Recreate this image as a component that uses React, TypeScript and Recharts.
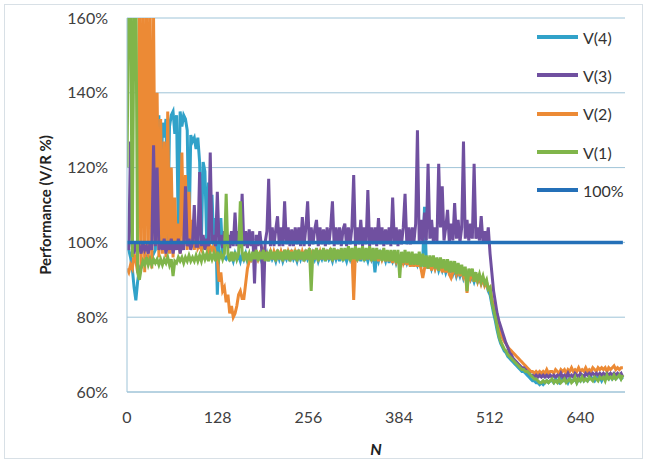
import React from 'react';
import { LineChart, Line, XAxis, YAxis, CartesianGrid, Legend } from 'recharts';

// one sample every STEP along N (20 samples per row below = 50 units of N)
const STEP = 2.5;

const V4 = [
  100, 98, 96, 93, 88, 84.5, 89.5, 93, 94, 95, 95, 96, 95, 96, 96, 97, 98, 110, 134, 100,
  132, 128, 133, 100, 131, 134, 135, 129, 134, 101, 135, 131, 134, 133, 130, 100, 128.7, 127, 128, 125,
  128, 121.5, 100, 121.5, 119, 100, 116, 100, 112.7, 99, 106.5, 86, 99, 106.5, 97, 96, 95.5, 96.5, 95.5, 96.5,
  95, 97, 95.5, 96.5, 95, 97, 95.5, 97, 95, 96.5, 95.5, 97, 95, 97, 95.5, 96.5, 95, 97, 95.5, 97,
  95, 97, 95.5, 96.5, 95, 97, 95.5, 97, 95, 96.5, 95.5, 97, 95, 97, 95.5, 96.5, 95, 97, 95.5, 97,
  95, 97, 95.5, 96.5, 95, 97, 95.5, 97, 95, 96.5, 95.5, 97, 95, 97, 95.5, 96.5, 95, 97, 95.5, 97,
  95, 97, 95.5, 96.5, 95, 97, 95.5, 97, 95, 96.5, 95.5, 97, 95, 97, 95.5, 96.5, 95, 97, 95.5, 97,
  92, 96.5, 95, 97, 95.5, 96.5, 95, 97, 94.5, 96.5, 95, 96.5, 94.5, 96, 94.5, 96.5, 94, 96, 94.5, 96,
  94, 96, 93.5, 95.5, 94, 95.5, 93.5, 95, 109.5, 95, 93, 95, 93, 94.5, 93, 94.5, 92.5, 94, 92.5, 94,
  92, 93.5, 92, 93, 91.5, 93, 91, 92.5, 91, 92.5, 90.5, 92, 90, 91.5, 90, 91, 89.5, 91, 89.5, 90.5,
  89, 90, 88.5, 89, 87, 86, 83.5, 81, 79, 76.5, 74.5, 73, 72, 71, 70.5, 69.5, 69, 68.5, 68, 67.5,
  67, 66.5, 66, 65.5, 65.5, 65, 64.5, 64, 63.5, 63, 63, 62.5, 62.5, 62, 62.5, 62, 62.5, 63, 62.5, 63,
  63, 62.5, 63.5, 63, 62.5, 63.5, 63, 63, 63.5, 62.5, 63.5, 63, 63, 63.5, 62.5, 63.5, 63, 64, 63, 63.5,
  63, 63.5, 64, 63.5, 63, 64, 63.5, 64, 63, 64, 63.5, 64, 63.5, 64.5, 63.5, 64, 63.5, 64, 64.5, 63.5,
  64,
];

const V3 = [
  100, 98, 127, 99, 97, 100, 98, 99, 97, 100, 98, 99, 97, 100, 98, 126, 99, 120, 98, 100,
  98, 101, 97, 100, 98, 101, 97, 100, 98, 101, 97, 100, 98, 115, 99, 101, 98, 100, 110, 99,
  99, 118.8, 99, 102, 98, 101, 99, 124, 100, 102, 99, 113.5, 100, 102, 98.5, 103, 99, 102, 98.5, 103,
  99, 108, 99, 103, 98.5, 113, 99, 103, 98.5, 103.5, 99, 103, 89, 102, 99, 103, 98.5, 82.5, 100, 103,
  117, 99, 104, 99, 103.5, 107, 99, 104, 99, 111, 99.5, 104, 99, 103.5, 99, 104, 99.5, 104, 99, 106.8,
  99, 104, 111, 99, 104, 99.5, 103.5, 106, 99, 104, 99.5, 103.5, 99, 104, 99.5, 104, 111, 99, 104, 99.5,
  104, 99, 103.5, 105, 99, 104, 99.5, 104, 118, 99, 104, 99.5, 106, 99, 104, 99.5, 114, 99, 104, 99.5,
  104, 99, 106.5, 99.5, 104, 99, 103.5, 99.5, 104, 99, 112, 99.5, 104, 99, 103.5, 99.5, 104, 113, 99.5, 104,
  99.5, 104, 100, 105, 130, 100, 106, 100, 108, 100.5, 121, 101, 106, 100, 104, 100, 121, 104, 115, 100.5,
  104, 108.7, 100, 105, 100.5, 110.5, 101, 106, 100, 104, 127, 101, 106, 100.5, 105, 101, 121, 101, 104, 100.5,
  107, 100, 103, 100, 104, 97, 92, 87, 84, 81, 79, 77.5, 76, 74.5, 73, 72, 70.5, 70, 69, 68.5,
  68, 67.5, 67, 66.5, 66.5, 66, 65.5, 65, 64.5, 64.5, 64, 64.5, 64, 64.5, 64, 64.5, 64, 64.5, 64, 64.5,
  64, 64.5, 64, 64.5, 64, 65, 64, 64.5, 64, 65, 64, 64.5, 64, 65, 64.5, 64, 65, 64.5, 64, 65,
  64.5, 65, 64.5, 65, 64.5, 65, 64.5, 65, 64.5, 65, 64.5, 65, 64.5, 65, 64.5, 65, 64.5, 65, 64.5, 65,
  64,
];

const V2 = [
  93, 92, 94, 93, 97, 95, 92, 170, 93, 170, 92, 170, 94, 170, 93, 160, 100, 140, 96, 133,
  97, 127, 96, 135, 97, 120, 96, 112, 98, 105, 97, 124, 99, 118, 98, 113.5, 99, 106, 98, 102,
  98.5, 99.5, 98, 99, 98.5, 99.5, 97.5, 99, 98, 99, 97, 96, 89.5, 92, 87, 88, 84, 86, 81, 83,
  80, 81, 83, 86, 87, 85, 85, 89, 93, 95, 95, 96.5, 96, 97, 95.5, 97, 96, 97.5, 95.5, 97,
  96, 97.5, 95.5, 97.5, 96, 98, 95.5, 97.5, 96, 98, 95.5, 97.5, 96, 98, 95.5, 97.5, 96, 98, 95.5, 97.5,
  96, 98, 95.5, 97.5, 96, 98, 95.5, 98, 96, 97.5, 95.5, 98, 96, 98, 95.5, 97.5, 96, 98, 95.5, 98,
  96, 98, 95.5, 98, 96, 98, 95.5, 98, 84.6, 97.5, 96, 98, 95.5, 98, 96, 98, 95.5, 97.5, 96, 98,
  95.5, 97.5, 95, 97.5, 95.5, 97, 95, 97.5, 95, 97, 94.5, 97, 95, 96.5, 94.5, 96.5, 94.5, 96, 94, 96,
  93.5, 96, 93.5, 95.5, 93.5, 95.5, 93, 90.5, 93, 95.5, 93, 95, 92.5, 95, 93, 94.5, 92.5, 94.5, 92, 94,
  92, 94, 91.5, 90.5, 92, 93.5, 91.5, 93, 91, 93, 91, 92.5, 86.5, 92.5, 90.5, 92, 89.5, 91.5, 89.5, 91,
  89, 90.5, 88.5, 89.5, 87.5, 88, 85, 83, 81, 79, 77, 75.5, 74.5, 73.5, 73, 72, 71.5, 71, 70.5, 70,
  69.5, 69, 68.5, 68, 67.5, 67, 66.5, 66, 65.5, 65.5, 65, 65.5, 65, 65.5, 65, 65.5, 65, 66, 65, 65.5,
  65.5, 65, 66, 65.5, 65, 66, 65.5, 66, 65, 66, 65.5, 66.5, 65.5, 66, 65.5, 66.5, 65.5, 66, 65.5, 66.5,
  65.5, 66, 65.5, 66.5, 66, 65.5, 66.5, 66, 66.5, 66, 66.5, 65.5, 66.5, 66, 66.5, 67, 66, 66.5, 66, 66.5,
  66.5,
];

const V1 = [
  120, 170, 170, 96, 170, 170, 92, 90, 93, 95, 94, 96, 94, 95.5, 94, 95.5, 94.5, 95.5, 94, 95.5,
  94, 95.5, 94.5, 96, 94, 95.5, 91, 95, 94.5, 96, 95, 96, 94.5, 96, 95, 96.5, 95, 96, 95, 96.5,
  95, 96.5, 95, 97, 95.5, 97, 95, 97, 95.5, 97, 95, 97.5, 95.5, 97, 95.5, 97, 113, 97, 95, 97.5,
  95, 97.5, 95.5, 97, 111, 97.5, 95, 97.5, 95.5, 97, 95, 97.5, 95.5, 98, 95, 97.5, 95.5, 98, 95, 97.5,
  95, 98, 95.5, 97.5, 95, 98, 95.5, 97.5, 95, 98, 95.5, 98, 95, 97.5, 95.5, 98, 95, 98, 95.5, 97.5,
  95, 98, 95.5, 98.5, 87, 98, 95.5, 98.5, 95, 98, 95.5, 98.5, 95, 98, 95.5, 98.5, 95, 98.5, 95.5, 98,
  95.5, 98.5, 95, 98.5, 95.5, 99, 95, 98.5, 95.5, 99, 95, 98.5, 95.5, 99, 95, 98.5, 95.5, 99, 95, 98.5,
  95, 98.5, 95.5, 98, 95, 98.5, 95, 98, 95, 98, 95, 98, 94.5, 98, 90.5, 97.5, 94.5, 98, 94.5, 97.5,
  94, 97.5, 94, 97, 94, 97.5, 93.5, 97, 93.5, 96.5, 93, 96.5, 93.5, 96.5, 93, 96, 92.5, 96, 93, 95.5,
  92.5, 95.5, 92, 95, 92, 95, 91.5, 94.5, 91.5, 94, 91, 93.5, 87, 93, 91, 93, 89.5, 92, 90, 91.5,
  89.5, 91, 89, 90, 87.5, 88, 84, 82, 80, 77.5, 75, 73.5, 72.5, 71.5, 71, 70, 69.5, 69, 68.5, 68,
  67.5, 67, 66.5, 66, 66, 65.5, 65.5, 65, 64.5, 64, 63.5, 63.5, 63, 62.5, 62.5, 63, 62.5, 63, 62.5, 63,
  63.5, 62.5, 63, 62.5, 63.5, 62.5, 63, 63.5, 62.5, 63, 63.5, 62.5, 63, 64, 62.5, 63.5, 63, 64, 63, 63.5,
  63, 64, 63.5, 63, 64, 63.5, 63, 64, 63.5, 64, 63, 64.5, 63.5, 64, 63.5, 64.5, 63.5, 64, 64.5, 63.5,
  64.5,
];

const REF = 100;

const Y_TICKS = [60, 80, 100, 120, 140, 160];
const X_TICKS = [0, 128, 256, 384, 512, 640];

const series = [
  { key: 'v4', name: 'V(4)', color: '#31a2c9', width: 3 },
  { key: 'v3', name: 'V(3)', color: '#7050a0', width: 3 },
  { key: 'v2', name: 'V(2)', color: '#ec8a35', width: 3 },
  { key: 'v1', name: 'V(1)', color: '#80b54a', width: 3 },
  { key: 'ref', name: '100%', color: '#2470b8', width: 3.5 },
];
// drawing order (later ones on top)
const drawOrder = ['v4', 'v2', 'v3', 'v1', 'ref'];

const data = V1.map((_, i) => ({
  n: i * STEP,
  v4: V4[i],
  v3: V3[i],
  v2: V2[i],
  v1: V1[i],
  ref: REF,
}));

const gridColor = '#9fc4d8';
const font = 'Lato, "Liberation Sans", sans-serif';

const LegendBox = () => (
  <div style={{ fontFamily: font }}>
    {series.map(s => (
      <div key={s.key} style={{ display: 'flex', alignItems: 'center', height: 38.3 }}>
        <span style={{ display: 'inline-block', width: 41, height: 4, background: s.color, marginRight: 5 }} />
        <span style={{ fontSize: 16, color: '#333' }}>{s.name}</span>
      </div>
    ))}
  </div>
);

export default function App() {
  return (
    <div style={{ position: 'absolute', left: 0, top: 0, width: 647, height: 461, background: '#fff', fontFamily: font }}>
      <div style={{ position: 'absolute', left: 4, top: 4, width: 637, height: 453, border: '1px solid #d8e0e6' }} />
      <LineChart width={647} height={461} data={data} margin={{ top: 18, right: 22, bottom: 0, left: 0 }}>
        <CartesianGrid vertical={false} stroke={gridColor} strokeWidth={1} />
        <XAxis
          dataKey="n"
          type="number"
          domain={[0, 703]}
          ticks={X_TICKS}
          allowDataOverflow
          tickLine={false}
          tickSize={0}
          tickMargin={20}
          axisLine={{ stroke: gridColor }}
          tick={{ fill: '#404040', fontSize: 16 }}
          height={69}
          label={{ value: 'N', position: 'insideBottom', offset: 6, style: { fontStyle: 'italic', fontWeight: 'bold', fill: '#222', fontSize: 16 } }}
        />
        <YAxis
          type="number"
          domain={[60, 160]}
          ticks={Y_TICKS}
          allowDataOverflow
          width={127}
          tickLine={false}
          tickSize={0}
          tickMargin={19}
          axisLine={{ stroke: gridColor }}
          tick={{ fill: '#404040', fontSize: 16 }}
          tickFormatter={v => `${v}%`}
          label={{ value: 'Performance (V/R %)', angle: -90, position: 'center', dx: -18, style: { fontWeight: 'bold', fill: '#222', fontSize: 15, textAnchor: 'middle' } }}
        />
        <Legend
          layout="vertical"
          align="center"
          verticalAlign="middle"
          wrapperStyle={{ left: 537, top: 18, width: 100 }}
          content={() => <LegendBox />}
        />
        {drawOrder.map(k => {
          const s = series.find(x => x.key === k)!;
          return (
            <Line
              key={s.key}
              type="linear"
              dataKey={s.key}
              name={s.name}
              stroke={s.color}
              strokeWidth={s.width}
              dot={false}
              activeDot={false}
              isAnimationActive={false}
            />
          );
        })}
      </LineChart>
    </div>
  );
}
